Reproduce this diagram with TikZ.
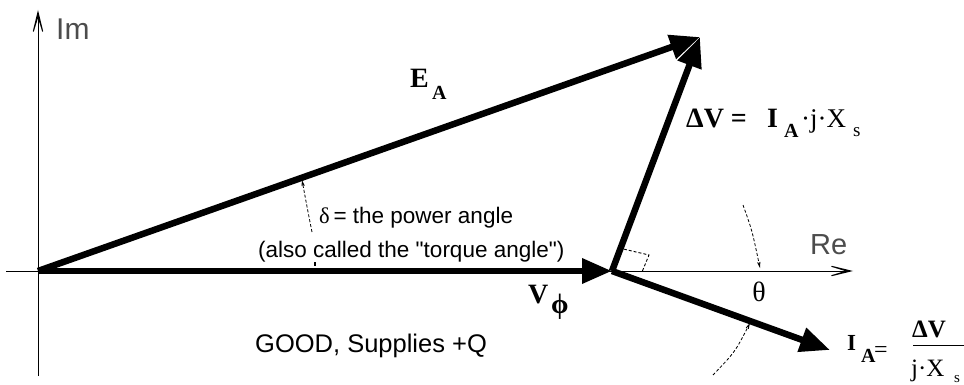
\documentclass[tikz,border=0pt]{standalone}
\usepackage{fontspec}
\setmainfont{Liberation Serif}
\newfontfamily\sansf{Liberation Sans}
\usetikzlibrary{arrows.meta}
\begin{document}
\begin{tikzpicture}[x=1pt,y=-1pt,
  vec/.style={line width=6.5pt,-{Triangle[length=30pt,width=24pt]}},
  axisline/.style={line width=1pt,-{Stealth[open,length=37pt,width=18pt,inset=29pt]}},
  thinarrow/.style={line width=0.8pt,densely dashed,-{Stealth[open,length=13pt,width=7pt,inset=9pt]}},
  sansl/.style={font=\sansf\fontsize{22.5}{27}\selectfont,anchor=base west,inner sep=0pt},
  axlab/.style={font=\sansf\fontsize{30}{30}\selectfont,text=black!70,anchor=base west,inner sep=0pt},
  lab/.style={font=\fontsize{28}{28}\selectfont\bfseries,anchor=base west,inner sep=0pt},
  sublab/.style={font=\fontsize{20}{20}\selectfont\bfseries,anchor=base west,inner sep=0pt},
  reglab/.style={font=\fontsize{27}{27}\selectfont,anchor=base west,inner sep=0pt},
  smalllab/.style={font=\fontsize{19}{19}\selectfont,anchor=base west,inner sep=0pt}]
\useasboundingbox (0,0) rectangle (964,385);
% key points
\coordinate (O) at (38,271);
\coordinate (J) at (612,271);
\coordinate (T) at (700,37);
\coordinate (IA) at (830,350);
% axes
\coordinate (reL) at (6,271);
\coordinate (reR) at (853,271);
\coordinate (imB) at (38,376);
\coordinate (imT) at (38,10);
\draw[axisline] (reL) -- (reR);
\draw[axisline] (imB) -- (imT);
\node[axlab] (im) at (56,40) {Im};
\node[axlab,font=\sansf\fontsize{29}{29}\selectfont] (re) at (810,254) {Re};
% phasors
\draw[vec] (O) -- (J);
\draw[vec] (O) -- (T);
\draw[vec] (J) -- (T);
\draw[vec] (J) -- (IA);
% right angle marker
\coordinate (q1) at (619,248);
\coordinate (q2) at (649,255);
\coordinate (q3) at (642,272);
\draw[line width=0.9pt,densely dashed] (q1) -- (q2) -- (q3);
% delta arc
\coordinate (d1) at (312,232);
\coordinate (d2) at (302,180);
\draw[thinarrow] (d1) .. controls (308,212) .. (d2);
\coordinate (tk1) at (315,262);
\coordinate (tk2) at (315,266);
\draw[line width=1.6pt] (tk1) -- (tk2);
% theta arcs
\coordinate (t1) at (743,205);
\coordinate (t2) at (760,268);
\draw[thinarrow] (t1) .. controls (752,230) .. (t2);
\coordinate (t3) at (713,375);
\coordinate (t4) at (750,323);
\draw[thinarrow] (t3) .. controls (735,352) .. (t4);
% texts
\node[sansl] (delta) at (319,223) {{\rmfamily δ}\,= the power angle};
\node[sansl] (torque) at (258,257) {(also called the "torque angle")};
\node[sansl,font=\sansf\fontsize{25.5}{30}\selectfont] (good) at (255,352) {GOOD, Supplies +Q};
\node[reglab,font=\fontsize{28}{28}\selectfont,anchor=center] (theta) at (759,292) {θ};
% E_A
\node[lab] (ea1) at (410,88) {E};
\node[sublab] (ea2) at (432,100) {A};
% V_phi
\node[lab] (vp1) at (528,303) {V};
\node[lab] (vp2) at (551,313) {ϕ};
% Delta V label
\node[lab] (dv1) at (686,128) {ΔV =};
\node[lab] (dv2) at (767,128) {I};
\node[sublab] (dv3) at (784,138) {A};
\node[reglab] (dv4) at (801,128) {·j·X};
\node[smalllab] (dv5) at (853,137) {s};
% I_A label
\node[lab,font=\fontsize{23}{23}\selectfont\bfseries] (ia1) at (847,350) {I};
\node[sublab] (ia2) at (861,362) {A};
\node[reglab,font=\fontsize{24}{24}\selectfont] (ia3) at (874,357) {=};
\node[lab,font=\fontsize{25}{25}\selectfont\bfseries] (ia4) at (912,337) {ΔV};
\coordinate (barL) at (913,345);
\coordinate (barR) at (964,345);
\draw[line width=1pt] (barL) -- (barR);
\node[reglab,font=\fontsize{25}{25}\selectfont] (ia5) at (911,376) {j·X};
\node[smalllab,font=\fontsize{15}{15}\selectfont] (ia6) at (954,382) {s};
\end{tikzpicture}
\end{document}
